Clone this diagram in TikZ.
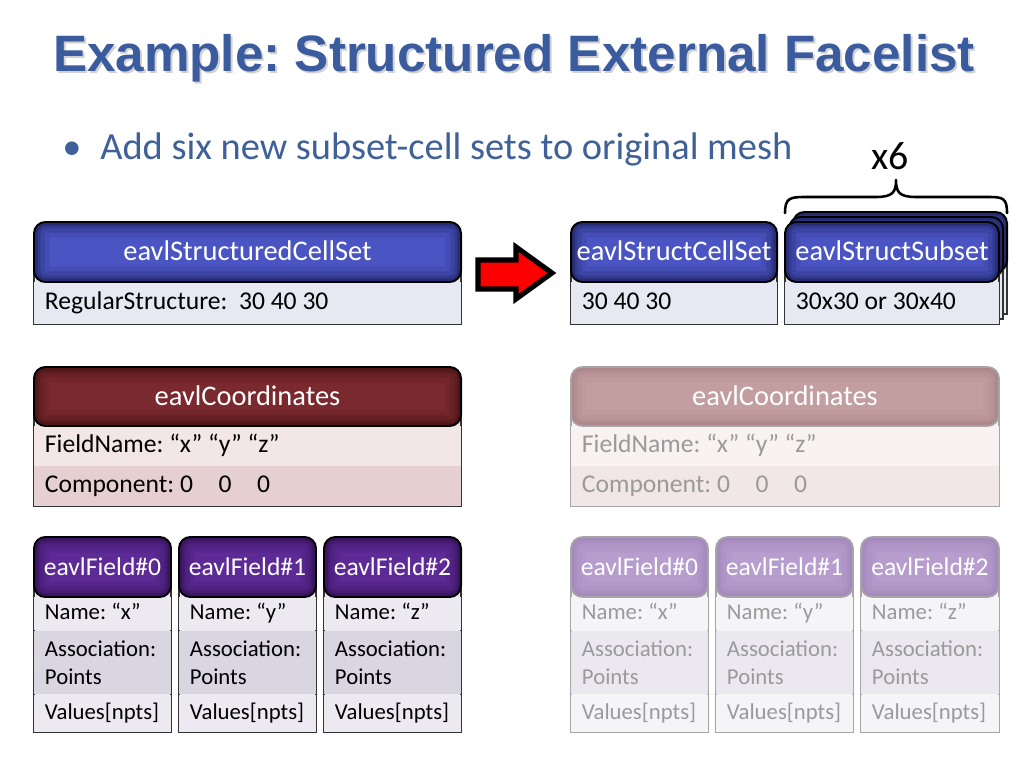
\documentclass[tikz,border=0pt]{standalone}
\usepackage{fontspec}
\setmainfont{Carlito}
\newfontfamily\titlefont{Liberation Sans}
\usetikzlibrary{fit}
\frenchspacing
\definecolor{titleblue}{HTML}{3A5B9E}
\definecolor{bulletblue}{HTML}{3F6198}
\definecolor{bluefill}{HTML}{4A54C2}
\definecolor{blueedge}{HTML}{0E1240}
\definecolor{redfill}{HTML}{7A2A2E}
\definecolor{rededge}{HTML}{340809}
\definecolor{purpfill}{HTML}{5E2A96}
\definecolor{purpedge}{HTML}{22073C}
\definecolor{fredfill}{HTML}{C29EA0}
\definecolor{frededge}{HTML}{A07A7C}
\definecolor{fpurpfill}{HTML}{B69DCD}
\definecolor{fpurpedge}{HTML}{9A7FB3}
\definecolor{bluerow}{HTML}{E6E8F2}
\definecolor{coordA}{HTML}{F2E6E7}
\definecolor{coordB}{HTML}{E6CFD0}
\definecolor{fieldA}{HTML}{ECEAF0}
\definecolor{fieldB}{HTML}{D9D5E1}
\definecolor{fcoordA}{HTML}{F8F2F2}
\definecolor{fcoordB}{HTML}{F2E7E7}
\definecolor{ffieldA}{HTML}{F5F4F7}
\definecolor{ffieldB}{HTML}{EBE9EF}
\definecolor{fadetext}{HTML}{9A9A9A}
\definecolor{fadeborder}{HTML}{A8A4A8}
% header: name, x1,y1,x2,y2, fill, edge, box style, text (text style = box style + txt)
\newcommand\mkhdr[9]{%
  \begin{scope}
    \clip[rounded corners=8pt] (#2,#3) rectangle (#4,#5);
    \fill[#6] (#2,#3) rectangle (#4,#5);
    \foreach \lw/\op in {22/0.10,15/0.14,9/0.2,5/0.3}{%
      \draw[#7, line width=\lw pt, opacity=\op, rounded corners=8pt] (#2,#3) rectangle (#4,#5);}
  \end{scope}
  \node[#8, fit={(#2,#3)(#4,#5)}] (#1) {};
  \node[#8txt] (#1t) at ([yshift=-6.3pt]#1.center) {#9};}
% row: name, x1,y1,x2,y2, fill, text style, text
\newcommand\mkrow[8]{%
  \node[rowbox, fill=#6, fit={(#2,#3)(#4,#5)}] (#1) {};
  \node[#7] (#1t) at ([xshift=7.7pt]#1.west) {#8};}
\begin{document}
\begin{tikzpicture}[x=0.703125pt,y=-0.703125pt,
  hdrbox/.style={draw=black, line width=1.4pt, rounded corners=8pt, inner sep=0pt},
  fhdrbox/.style={draw=fadeborder, line width=1.2pt, rounded corners=8pt, inner sep=0pt},
  hdrboxtxt/.style={anchor=base, inner sep=0pt, text=white, font=\fontsize{20}{24}\selectfont},
  fhdrboxtxt/.style={hdrboxtxt},
  fldbox/.style={hdrbox},
  ffldbox/.style={fhdrbox},
  fldboxtxt/.style={anchor=base, inner sep=0pt, text=white, font=\fontsize{18}{22}\selectfont},
  ffldboxtxt/.style={fldboxtxt},
  rowbox/.style={inner sep=0pt, draw=none},
  rowtext/.style={anchor=base west, yshift=-4.9pt, inner sep=0pt, text=black, font=\fontsize{18}{19.7}\selectfont},
  frowtext/.style={rowtext, text=fadetext},
  fldtext/.style={anchor=base west, yshift=-4.5pt, inner sep=0pt, text=black, font=\fontsize{16}{19.7}\selectfont},
  ffldtext/.style={fldtext, text=fadetext},
  rowtwo/.style={anchor=west, inner sep=0pt, text=black, align=left, font=\fontsize{16}{19.7}\selectfont},
  frowtwo/.style={rowtwo, text=fadetext},
  frame/.style={draw=black!80, line width=1pt, inner sep=0pt},
  fframe/.style={draw=fadeborder, line width=1pt, inner sep=0pt},
  frameline/.style={draw=black!80, line width=1pt},
  fframeline/.style={draw=fadeborder, line width=1pt}]
\useasboundingbox (0,0) rectangle (1024,768);
\fill[white] (0,0) rectangle (1024,768);

% title
\node[anchor=base, font=\titlefont\bfseries\fontsize{36}{40}\selectfont, text=black, opacity=0.18] (titleshadow) at (516,74) {Example: Structured External Facelist};
\node[anchor=base, font=\titlefont\bfseries\fontsize{36}{40}\selectfont, text=titleblue] (title) at (514,72) {Example: Structured External Facelist};

% bullet
\node[anchor=base west, inner sep=0pt, font=\fontsize{27}{32}\selectfont, text=bulletblue] (dot) at (62,160) {•};
\node[anchor=base west, inner sep=0pt, font=\fontsize{27}{32}\selectfont, text=bulletblue] (bullet) at (100,160) {Add six new subset-cell sets to original mesh};

% x6 and brace
\node[anchor=base, inner sep=0pt, font=\fontsize{28}{32}\selectfont] (xsix) at (890,170) {x6};
\draw[line width=1.8pt, line cap=round, line join=round] (785,213) .. controls (785,198) and (790,197) .. (805,197) -- (876,197) .. controls (893,197) and (896,192) .. (896,180) .. controls (896,192) and (899,197) .. (916,197) -- (988,197) .. controls (1003,197) and (1007,198) .. (1007,213);

% ---- box 1: eavlStructuredCellSet
\node[frame, fill=bluerow, fit={(34,260)(461,324)}] (sf) {};
\mkrow{sr}{34}{282}{461}{324}{bluerow}{rowtext}{RegularStructure:\ \ 30 40 30}
\draw[frameline] (sf.north west) rectangle (sf.south east);
\mkhdr{sh}{34}{222}{461}{282}{bluefill}{blueedge}{hdrbox}{eavlStructuredCellSet}

% red arrow
\draw[fill=red, line width=3.6pt, line join=miter] (478,260) -- (516,260) -- (516,247) -- (552,273) -- (516,299) -- (516,289) -- (478,289) -- cycle;

% ---- box 2: eavlStructCellSet
\node[frame, fill=bluerow, fit={(571,260)(777,324)}] (cf) {};
\mkrow{cr}{571}{282}{777}{324}{bluerow}{rowtext}{30 40 30}
\draw[frameline] (cf.north west) rectangle (cf.south east);
\mkhdr{ch}{571}{222}{777}{282}{bluefill}{blueedge}{hdrbox}{eavlStructCellSet}

% ---- box 3: stacked eavlStructSubset
\node[frame, fill=bluerow, fit={(793,250)(1007,314)}] (ssf2) {};
\mkhdr{ssh2}{793}{212}{1007}{272}{bluefill}{blueedge}{hdrbox}{}
\node[frame, fill=bluerow, fit={(789,255)(1003,319)}] (ssf1) {};
\mkhdr{ssh1}{789}{217}{1003}{277}{bluefill}{blueedge}{hdrbox}{}
\node[frame, fill=bluerow, fit={(785,260)(999,324)}] (ssf) {};
\mkrow{ssr}{785}{282}{999}{324}{bluerow}{rowtext}{30x30 or 30x40}
\draw[frameline] (ssf.north west) rectangle (ssf.south east);
\mkhdr{ssh}{785}{222}{999}{282}{bluefill}{blueedge}{hdrbox}{eavlStructSubset}

% ---- coordinates left
\node[frame, fill=coordA, fit={(34,405)(461,506)}] (lcf) {};
\mkrow{lc1}{34}{426}{461}{466}{coordA}{rowtext}{FieldName: “x” “y” “z”}
\mkrow{lc2}{34}{466}{461}{506}{coordB}{rowtext}{Component: 0\quad 0\quad 0}
\draw[frameline] (lcf.north west) rectangle (lcf.south east);
\mkhdr{lch}{34}{367}{461}{426}{redfill}{rededge}{hdrbox}{eavlCoordinates}

% ---- coordinates right (faded)
\node[fframe, fill=fcoordA, fit={(571,405)(999,506)}] (rcf) {};
\mkrow{rc1}{571}{426}{999}{466}{fcoordA}{frowtext}{FieldName: “x” “y” “z”}
\mkrow{rc2}{571}{466}{999}{506}{fcoordB}{frowtext}{Component: 0\quad 0\quad 0}
\draw[fframeline] (rcf.north west) rectangle (rcf.south east);
\mkhdr{rch}{571}{367}{999}{426}{fredfill}{frededge}{fhdrbox}{eavlCoordinates}

% ---- fields left
\foreach \i/\xa/\xb/\nm in {0/34/171/x,1/179/316/y,2/324/461/z}{
  \node[frame, fill=fieldA, fit={(\xa,575)(\xb,732)}] (lff\i) {};
  \mkrow{lfn\i}{\xa}{597}{\xb}{630}{fieldA}{fldtext}{Name: “\nm”}
  \mkrow{lfa\i}{\xa}{631}{\xb}{694}{fieldB}{rowtwo}{Association:\\Points}
  \mkrow{lfv\i}{\xa}{695}{\xb}{732}{fieldA}{fldtext}{Values[npts]}
  \draw[frameline] (lff\i.north west) rectangle (lff\i.south east);
  \mkhdr{lfh\i}{\xa}{537}{\xb}{597}{purpfill}{purpedge}{fldbox}{eavlField\#\i}
}

% ---- fields right (faded)
\foreach \i/\xa/\xb/\nm in {0/571/708/x,1/716/853/y,2/861/999/z}{
  \node[fframe, fill=ffieldA, fit={(\xa,575)(\xb,732)}] (rff\i) {};
  \mkrow{rfn\i}{\xa}{597}{\xb}{630}{ffieldA}{ffldtext}{Name: “\nm”}
  \mkrow{rfa\i}{\xa}{631}{\xb}{694}{ffieldB}{frowtwo}{Association:\\Points}
  \mkrow{rfv\i}{\xa}{695}{\xb}{732}{ffieldA}{ffldtext}{Values[npts]}
  \draw[fframeline] (rff\i.north west) rectangle (rff\i.south east);
  \mkhdr{rfh\i}{\xa}{537}{\xb}{597}{fpurpfill}{fpurpedge}{ffldbox}{eavlField\#\i}
}
\end{tikzpicture}
\end{document}
